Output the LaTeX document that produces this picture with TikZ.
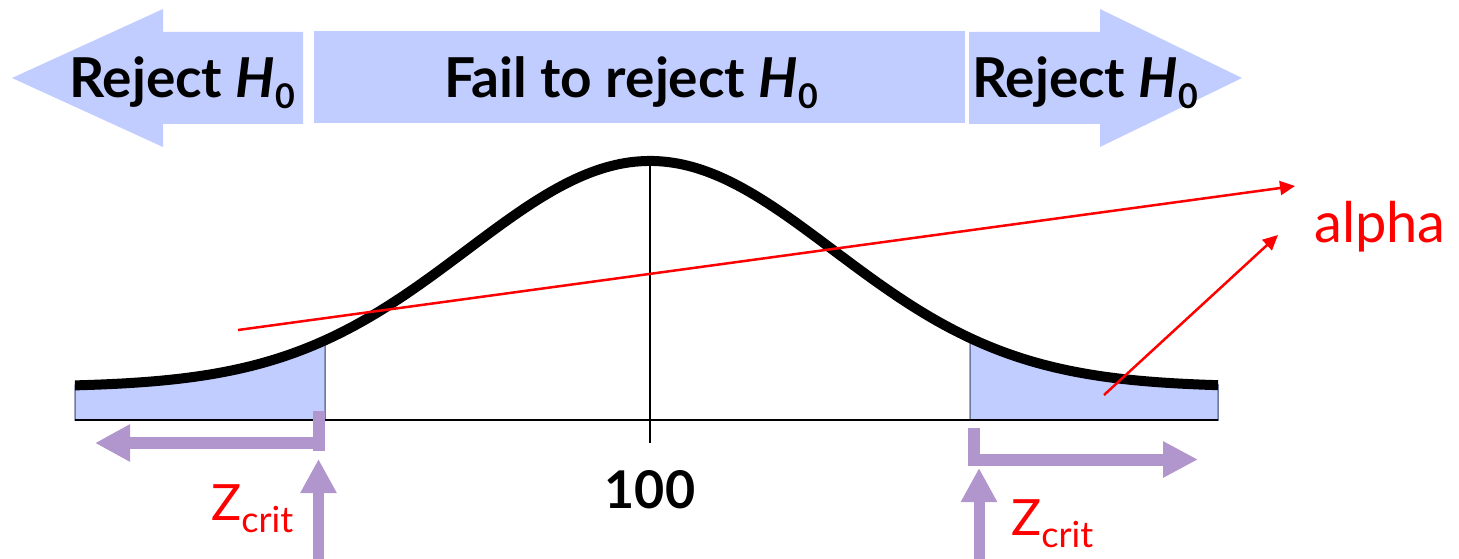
\documentclass[tikz,border=0pt]{standalone}
\usepackage{fontspec}
\setmainfont{Lato}
\usetikzlibrary{arrows.meta}
\definecolor{bandblue}{RGB}{194,205,255}
\definecolor{edgeblue}{RGB}{110,122,160}
\definecolor{lilac}{RGB}{176,150,204}
\definecolor{alphared}{RGB}{255,0,0}
\newcommand{\Hnull}{\textit{H}\raisebox{-11pt}{\fontsize{34}{34}\selectfont 0}}
\newcommand{\Zcrit}{Z\raisebox{-12pt}{\fontsize{36}{36}\selectfont crit}}
\begin{document}
\begin{tikzpicture}[x=1pt,y=-1pt,
  band/.style={fill=bandblue,draw=none},
  headtext/.style={font=\fontsize{55}{60}\selectfont\bfseries,inner sep=0pt,anchor=base},
  tailfill/.style={fill=bandblue,draw=edgeblue,line width=1.5pt},
  curveline/.style={line width=10pt,black},
  lilacbar/.style={draw=lilac,line width=12pt},
  lilacarrow/.style={draw=lilac,line width=11pt,-{Triangle[length=34pt,width=34pt]}},
  redarrow/.style={draw=alphared,line width=2.5pt,-{Triangle[length=15pt,width=14pt]}},
  redtext/.style={text=alphared,inner sep=0pt}]
\useasboundingbox (0,0) rectangle (1459,559);
% region bands
\fill[band] (12,78) -- (163,9) -- (163,32) -- (303,32) -- (303,124) -- (163,124) -- (163,147) -- cycle;
\fill[band] (314,31) rectangle (965,123);
\fill[band] (969,32) -- (1100,32) -- (1100,9) -- (1242,78) -- (1100,147) -- (1100,124) -- (969,124) -- cycle;
\node[headtext] (rejL) at (182,98) {Reject \Hnull};
\node[headtext] (fail) at (631,98) {Fail to reject \Hnull};
\node[headtext] (rejR) at (1085,98) {Reject \Hnull};
% tails
\filldraw[tailfill] (75,420) -- plot[domain=75:325,samples=80] (\x,{387-226*exp(0-((\x-650)/100)^2/6.6978)}) -- (325,420) -- cycle;
\filldraw[tailfill] (970,420) -- plot[domain=970:1218,samples=80] (\x,{387-226*exp(0-((\x-650)/100)^2/6.6978)}) -- (1218,420) -- cycle;
% axis
\draw[line width=2pt] (75,420) -- (1218,420);
\draw[line width=1.8pt] (650,162) -- (650,443);
% curve
\draw[curveline] plot[domain=75:1218,samples=240] (\x,{387-226*exp(0-((\x-650)/100)^2/6.6978)});
\node[font=\fontsize{52}{60}\selectfont\bfseries,inner sep=0pt,anchor=base] (mean) at (650,508) {100};
% lilac arrows
\coordinate (lTickTop) at (319,411);
\coordinate (lTickBot) at (319,451);
\coordinate (lShaft) at (325,443);
\coordinate (lTip) at (95,443);
\coordinate (lUpBot) at (318.5,559);
\coordinate (lUpTip) at (318.5,459);
\draw[lilacbar] (lTickTop) -- (lTickBot);
\draw[lilac,line width=12pt,-{Triangle[length=35pt,width=35pt]}] (lShaft) -- (lTip);
\draw[lilacarrow] (lUpBot) -- (lUpTip);
\coordinate (rTickTop) at (974,428);
\coordinate (rTickBot) at (974,466);
\coordinate (rShaft) at (968,459.5);
\coordinate (rTip) at (1198,459.5);
\coordinate (rUpBot) at (979,559);
\coordinate (rUpTip) at (979,468);
\draw[lilacbar] (rTickTop) -- (rTickBot);
\draw[lilac,line width=12pt,-{Triangle[length=35pt,width=34pt]}] (rShaft) -- (rTip);
\draw[lilacarrow] (rUpBot) -- (rUpTip);
% labels
\node[redtext,font=\fontsize{50}{56}\selectfont,anchor=base west] (zL) at (211,520) {\Zcrit};
\node[redtext,font=\fontsize{50}{56}\selectfont,anchor=base west] (zR) at (1011,535) {\Zcrit};
\node[redtext,font=\fontsize{56}{62}\selectfont,anchor=base west] (alpha) at (1314,242) {alpha};
% red pointers
\coordinate (p1) at (238,330);
\coordinate (t1) at (1295,186);
\coordinate (p2) at (1104,395);
\coordinate (t2) at (1278,235);
\draw[redarrow] (p1) -- (t1);
\draw[redarrow] (p2) -- (t2);
\end{tikzpicture}
\end{document}
